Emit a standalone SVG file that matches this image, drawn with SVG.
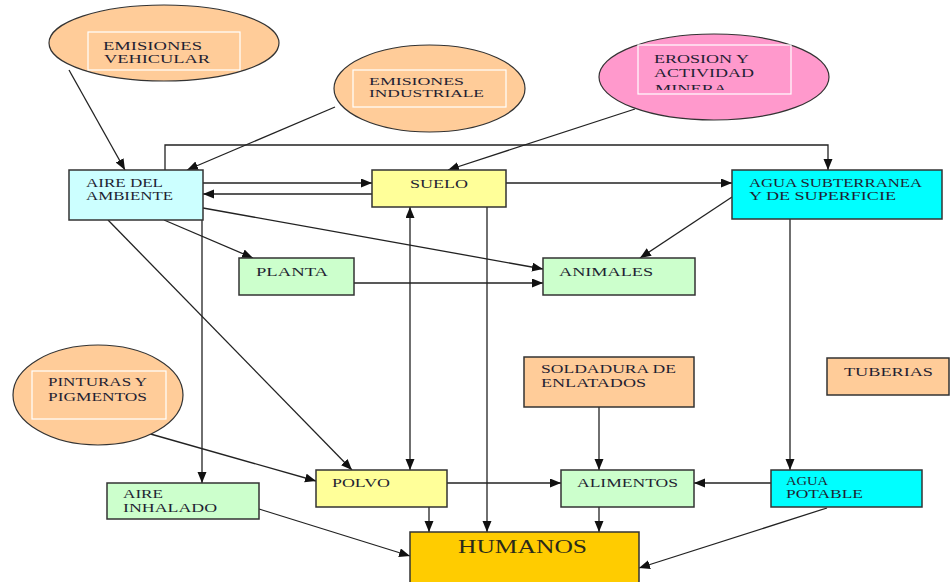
<svg xmlns="http://www.w3.org/2000/svg" width="951" height="582" viewBox="0 0 951 582">
<style>
.t{font-family:"Liberation Serif","Times New Roman",serif;font-size:12px;fill:#1f1f33}
.s{font-size:11px}
.h{font-family:"Liberation Serif","Times New Roman",serif;font-size:18px;fill:#2a2a1a}
.box{stroke:#333;stroke-width:1.5}
.ell{stroke:#333;stroke-width:1.2}
.in{fill:none;stroke:#fff;stroke-width:1.2}
.c{fill:none;stroke:#222;stroke-width:1.3}
</style>
<defs>
<marker id="a" markerUnits="userSpaceOnUse" markerWidth="12" markerHeight="10" refX="11" refY="4.5" orient="auto-start-reverse">
<path d="M0,0 L11,4.5 L0,9 z" fill="#111"/>
</marker>
<clipPath id="clipEro"><rect x="638" y="45" width="153" height="45"/></clipPath>
</defs>
<rect width="951" height="582" fill="#fff"/>

<g id="connectors">
<line class="c" x1="69" y1="70" x2="125" y2="170" marker-end="url(#a)"/>
<line class="c" x1="335" y1="107" x2="187" y2="170" marker-end="url(#a)"/>
<line class="c" x1="635" y1="109" x2="448" y2="170" marker-end="url(#a)"/>
<line class="c" x1="203" y1="183" x2="372" y2="183" marker-end="url(#a)"/>
<line class="c" x1="372" y1="194" x2="203" y2="194" marker-end="url(#a)"/>
<line class="c" x1="506" y1="183" x2="732" y2="183" marker-end="url(#a)"/>
<path class="c" d="M165,170 V145 H828 V170" marker-end="url(#a)"/>
<line class="c" x1="164" y1="220" x2="253" y2="258" marker-end="url(#a)"/>
<line class="c" x1="203" y1="208" x2="543" y2="269" marker-end="url(#a)"/>
<line class="c" x1="354" y1="283" x2="543" y2="283" marker-end="url(#a)"/>
<line class="c" x1="732" y1="197" x2="640" y2="258" marker-end="url(#a)"/>
<line class="c" x1="108" y1="220" x2="352" y2="470" marker-end="url(#a)"/>
<line class="c" x1="202" y1="220" x2="202" y2="483" marker-end="url(#a)"/>
<line class="c" x1="410" y1="207" x2="410" y2="470" marker-start="url(#a)" marker-end="url(#a)"/>
<line class="c" x1="487" y1="207" x2="487" y2="532" marker-end="url(#a)"/>
<line class="c" x1="147" y1="433" x2="316" y2="481" marker-end="url(#a)"/>
<line class="c" x1="447" y1="483" x2="561" y2="483" marker-end="url(#a)"/>
<line class="c" x1="599" y1="407" x2="599" y2="470" marker-end="url(#a)"/>
<line class="c" x1="790" y1="219" x2="790" y2="470" marker-end="url(#a)"/>
<line class="c" x1="771" y1="483" x2="694" y2="483" marker-end="url(#a)"/>
<line class="c" x1="429" y1="507" x2="429" y2="532" marker-end="url(#a)"/>
<line class="c" x1="599" y1="507" x2="599" y2="532" marker-end="url(#a)"/>
<line class="c" x1="259" y1="509" x2="410" y2="556" marker-end="url(#a)"/>
<line class="c" x1="827" y1="508" x2="639" y2="568" marker-end="url(#a)"/>
</g>

<g id="emisiones-vehicular">
<ellipse class="ell" cx="164" cy="43" rx="115" ry="38" fill="#ffcc99"/>
<rect class="in" x="88" y="32" width="152" height="38"/>
<text class="t" x="103" y="50" textLength="99" lengthAdjust="spacingAndGlyphs">EMISIONES</text>
<text class="t" x="104" y="63" textLength="106" lengthAdjust="spacingAndGlyphs">VEHICULAR</text>
</g>

<g id="emisiones-industriale">
<ellipse class="ell" cx="429.5" cy="88.5" rx="95.5" ry="43.5" fill="#ffcc99"/>
<rect class="in" x="353" y="70" width="153" height="37"/>
<text class="t s" x="369" y="85" textLength="95" lengthAdjust="spacingAndGlyphs">EMISIONES</text>
<text class="t s" x="369" y="97" textLength="115" lengthAdjust="spacingAndGlyphs">INDUSTRIALE</text>
</g>

<g id="erosion">
<ellipse class="ell" cx="714" cy="77" rx="115" ry="43" fill="#ff99cc"/>
<rect class="in" x="638" y="45" width="153" height="49"/>
<text class="t" x="654" y="63" textLength="95" lengthAdjust="spacingAndGlyphs">EROSION Y</text>
<text class="t" x="654" y="77" textLength="100" lengthAdjust="spacingAndGlyphs">ACTIVIDAD</text>
<text class="t" x="655" y="93" textLength="72" lengthAdjust="spacingAndGlyphs" clip-path="url(#clipEro)">MINERA</text>
</g>

<g id="aire-ambiente">
<rect class="box" x="69" y="170" width="134" height="50" fill="#ccffff"/>
<text class="t" x="86" y="187" textLength="77" lengthAdjust="spacingAndGlyphs">AIRE DEL</text>
<text class="t" x="86" y="200" textLength="87" lengthAdjust="spacingAndGlyphs">AMBIENTE</text>
</g>

<g id="suelo">
<rect class="box" x="372" y="170" width="134" height="37" fill="#ffff99"/>
<text class="t" x="410" y="188" textLength="58" lengthAdjust="spacingAndGlyphs">SUELO</text>
</g>

<g id="agua-subterranea">
<rect class="box" x="732" y="170" width="210" height="49" fill="#00ffff"/>
<text class="t" x="749" y="187" textLength="173" lengthAdjust="spacingAndGlyphs">AGUA SUBTERRANEA</text>
<text class="t" x="749" y="200" textLength="147" lengthAdjust="spacingAndGlyphs">Y  DE  SUPERFICIE</text>
</g>

<g id="planta">
<rect class="box" x="239" y="258" width="115" height="37" fill="#ccffcc"/>
<text class="t" x="256" y="276" textLength="72" lengthAdjust="spacingAndGlyphs">PLANTA</text>
</g>

<g id="animales">
<rect class="box" x="543" y="258" width="152" height="37" fill="#ccffcc"/>
<text class="t" x="559" y="276" textLength="94" lengthAdjust="spacingAndGlyphs">ANIMALES</text>
</g>

<g id="pinturas">
<ellipse class="ell" cx="98" cy="395" rx="85" ry="50" fill="#ffcc99"/>
<rect class="in" x="32" y="371" width="134" height="48"/>
<text class="t" x="48" y="386" textLength="99" lengthAdjust="spacingAndGlyphs">PINTURAS Y</text>
<text class="t" x="48" y="401" textLength="99" lengthAdjust="spacingAndGlyphs">PIGMENTOS</text>
</g>

<g id="soldadura">
<rect class="box" x="524" y="357" width="170" height="50" fill="#ffcc99"/>
<text class="t" x="541" y="373" textLength="135" lengthAdjust="spacingAndGlyphs">SOLDADURA DE</text>
<text class="t" x="541" y="387" textLength="105" lengthAdjust="spacingAndGlyphs">ENLATADOS</text>
</g>

<g id="tuberias">
<rect class="box" x="827" y="358" width="122" height="37" fill="#ffcc99"/>
<text class="t" x="844" y="376" textLength="89" lengthAdjust="spacingAndGlyphs">TUBERIAS</text>
</g>

<g id="aire-inhalado">
<rect class="box" x="107" y="483" width="152" height="36" fill="#ccffcc"/>
<text class="t" x="123" y="498" textLength="40" lengthAdjust="spacingAndGlyphs">AIRE</text>
<text class="t" x="123" y="512" textLength="94" lengthAdjust="spacingAndGlyphs">INHALADO</text>
</g>

<g id="polvo">
<rect class="box" x="316" y="470" width="131" height="37" fill="#ffff99"/>
<text class="t" x="332" y="487" textLength="58" lengthAdjust="spacingAndGlyphs">POLVO</text>
</g>

<g id="alimentos">
<rect class="box" x="561" y="470" width="133" height="37" fill="#ccffcc"/>
<text class="t" x="577" y="487" textLength="101" lengthAdjust="spacingAndGlyphs">ALIMENTOS</text>
</g>

<g id="agua-potable">
<rect class="box" x="771" y="470" width="151" height="37" fill="#00ffff"/>
<text class="t" x="786" y="485" textLength="42" lengthAdjust="spacingAndGlyphs">AGUA</text>
<text class="t" x="786" y="498" textLength="77" lengthAdjust="spacingAndGlyphs">POTABLE</text>
</g>

<g id="humanos">
<rect class="box" x="410" y="532" width="229" height="60" fill="#ffcc00"/>
<text class="h" x="458" y="553" textLength="129" lengthAdjust="spacingAndGlyphs">HUMANOS</text>
</g>
</svg>
